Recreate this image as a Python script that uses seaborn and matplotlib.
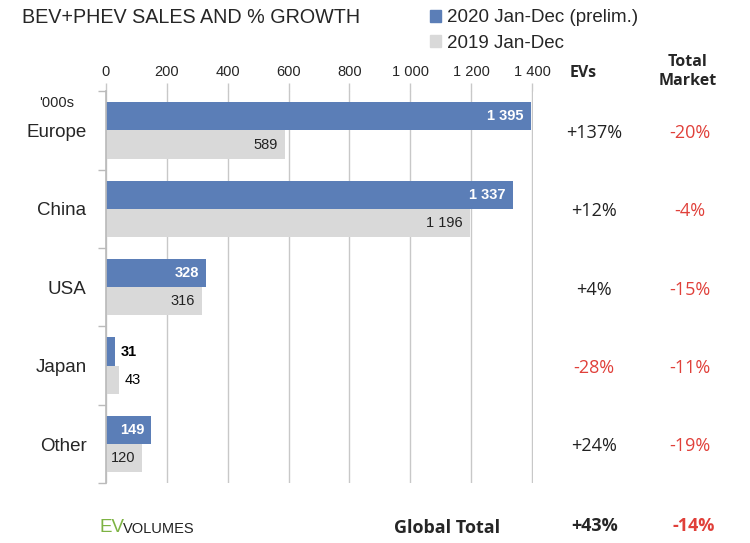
import numpy as np
import pandas as pd
import matplotlib
matplotlib.use("Agg")
import matplotlib.pyplot as plt
import matplotlib.transforms as mtransforms
from matplotlib.ticker import FuncFormatter, FixedLocator
import seaborn as sns

# Datos (miles de vehiculos)
regiones = ["Europe", "China", "USA", "Japan", "Other"]
ventas_2020 = [1395, 1337, 328, 31, 149]
ventas_2019 = [589, 1196, 316, 43, 120]
crec_evs = ["+137%", "+12%", "+4%", "-28%", "+24%"]
crec_mercado = ["-20%", "-4%", "-15%", "-11%", "-19%"]
series = ["2020 Jan-Dec (prelim.)", "2019 Jan-Dec"]
total_evs = "+43%"
total_mercado = "-14%"

AZUL = "#5B7EB7"
GRIS = "#D9D9D9"
ROJO = "#E0403A"
ARIAL = ["Liberation Sans", "DejaVu Sans"]
OPEN = ["Open Sans", "DejaVu Sans"]

sns.set_theme(style="white")
plt.rcParams["font.family"] = ARIAL

df = pd.DataFrame({
    "region": regiones * 2,
    "ventas": ventas_2020 + ventas_2019,
    "serie": [series[0]] * len(regiones) + [series[1]] * len(regiones),
})

fig = plt.figure(figsize=(7.5, 5.43), dpi=100)
ax = fig.add_axes([0.1413, 0.110, 0.5693, 0.722])

sns.barplot(data=df, y="region", x="ventas", hue="serie", order=regiones,
            hue_order=series, palette=[AZUL, GRIS], width=0.72, orient="h",
            saturation=1, errorbar=None, linewidth=0, ax=ax)
ax.legend_.remove()

ax.set_xlim(0, 1403)
ax.set_ylim(len(regiones) - 0.5, -0.5)
ax.set_xlabel("")
ax.set_ylabel("")

fmt_miles = lambda v: f"{int(v):,}".replace(",", " ")
ax.xaxis.set_major_formatter(FuncFormatter(lambda v, p: fmt_miles(v)))
ax.xaxis.set_major_locator(FixedLocator(np.arange(0, 1401, 200)))
ax.xaxis.tick_top()
ax.tick_params(axis="x", top=True, length=6, color="#C8C8C8", width=1,
               labelsize=10.5, pad=3)
ax.grid(axis="x", color="#C8C8C8", linewidth=1)
ax.set_axisbelow(True)

ax.tick_params(axis="y", which="major", length=0, labelsize=13.5, pad=14)
ax.yaxis.set_minor_locator(FixedLocator(np.arange(-0.5, len(regiones), 1.0)))
ax.tick_params(axis="y", which="minor", left=True, length=6, color="#BBBBBB", width=1)

for s in ["top", "right", "bottom"]:
    ax.spines[s].set_visible(False)
ax.spines["left"].set_color("#BBBBBB")

# etiquetas de datos
for cont, es_azul in zip(ax.containers, [True, False]):
    for barra in cont:
        v = barra.get_width()
        yc = barra.get_y() + barra.get_height() / 2
        if v < 100:
            ax.annotate(fmt_miles(v), (v, yc), xytext=(4, 0), textcoords="offset points",
                        ha="left", va="center", fontsize=10.5, color="black",
                        fontweight="bold" if es_azul else "normal")
        else:
            ax.annotate(fmt_miles(v), (v, yc), xytext=(-5, 0), textcoords="offset points",
                        ha="right", va="center", fontsize=10.5,
                        color="white" if es_azul else "#222222",
                        fontweight="bold" if es_azul else "normal")

# columnas de crecimiento
tr = mtransforms.blended_transform_factory(fig.transFigure, ax.transData)
for i in range(len(regiones)):
    c1 = ROJO if crec_evs[i].startswith("-") else "#222222"
    ax.text(0.792, i + 0.03, crec_evs[i], transform=tr, ha="center", va="center",
            fontsize=13, color=c1, family=OPEN)
    ax.text(0.920, i + 0.03, crec_mercado[i], transform=tr, ha="center", va="center",
            fontsize=13, color=ROJO, family=OPEN)

fig.text(0.777, 0.866, "EVs", ha="center", va="center", fontsize=11.5,
         fontweight="bold", family=OPEN)
fig.text(0.917, 0.868, "Total\nMarket", ha="center", va="center", fontsize=11.5,
         fontweight="bold", family=OPEN, linespacing=1.25)

fig.text(0.076, 0.810, "'000s", ha="center", va="center", fontsize=10.5)
fig.text(0.029, 0.967, "BEV+PHEV SALES AND % GROWTH", ha="left", va="center",
         fontsize=14.2)

# leyenda
handles = [plt.Rectangle((0, 0), 1, 1, color=AZUL), plt.Rectangle((0, 0), 1, 1, color=GRIS)]
fig.legend(handles, series, loc="upper left", bbox_to_anchor=(0.551, 1.014),
           frameon=False, handlelength=0.6, handleheight=0.6, handletextpad=0.3,
           labelspacing=0.45, prop={"size": 13.5})

# fila total
fig.text(0.596, 0.027, "Global Total", ha="center", va="center", fontsize=13,
         fontweight="bold", family=OPEN)
fig.text(0.793, 0.031, total_evs, ha="center", va="center", fontsize=13,
         fontweight="bold", family=OPEN)
fig.text(0.925, 0.031, total_mercado, ha="center", va="center", fontsize=13,
         fontweight="bold", family=OPEN, color=ROJO)

# logo EV VOLUMES
fig.text(0.133, 0.029, "EV", ha="left", va="center", fontsize=13.5, color="#7DB343")
fig.text(0.164, 0.025, "VOLUMES", ha="left", va="center", fontsize=10.5,
         color="#222222")

fig.savefig("out.png", dpi=100)
